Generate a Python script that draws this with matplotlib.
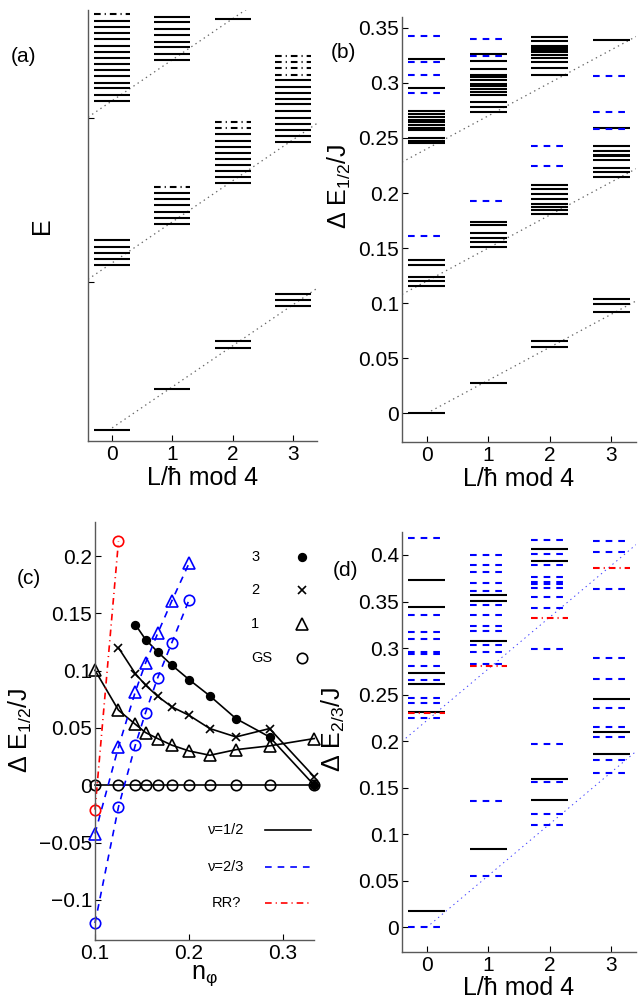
import numpy as np
import matplotlib
matplotlib.use("Agg")
import matplotlib.pyplot as plt

plt.rcParams['font.family'] = ['Liberation Sans', 'DejaVu Sans']
plt.rcParams['lines.scale_dashes'] = False
plt.rcParams['axes.linewidth'] = 1.0

L_vals = [0, 1, 2, 3]

# ---- (a) schematic spectrum, arbitrary energy units ----
a_solid = [
    [0.27, 4.28, 4.43, 4.58, 4.72, 4.89, 8.29, 8.44, 8.59, 8.73, 8.89, 9.03,
     9.18, 9.33, 9.49, 9.63, 9.80, 9.93, 10.09, 10.24],
    [1.27, 5.29, 5.43, 5.59, 5.74, 5.90, 6.04, 9.29, 9.44, 9.59, 9.73, 9.89,
     10.03, 10.20, 10.33],
    [2.26, 2.44, 6.28, 6.43, 6.58, 6.73, 6.88, 7.02, 7.17, 7.32, 7.47, 10.29],
    [3.29, 3.44, 3.59, 7.28, 7.43, 7.58, 7.73, 7.88, 8.03, 8.20, 8.34, 8.49,
     8.63, 8.79],
]
a_dashdot = [[10.40], [6.18], [7.63, 7.77], [8.93, 9.09, 9.24, 9.39]]
a_guides = [0.32, 4.34, 8.29]
a_slope = 1.0

# ---- (b) Delta E_{1/2}/J ----
b_black = [
    [0.0, 0.1157, 0.1200, 0.1236, 0.1351, 0.1396, 0.2453, 0.2475, 0.2499,
     0.2570, 0.2590, 0.2615, 0.2640, 0.2665, 0.2690, 0.2715, 0.2745, 0.2956,
     0.3216],
    [0.0278, 0.1511, 0.1551, 0.1596, 0.1638, 0.1707, 0.1741, 0.2735, 0.2780,
     0.2823, 0.2893, 0.2918, 0.2945, 0.2968, 0.2992, 0.3022, 0.3050, 0.3074,
     0.3125, 0.3197, 0.3261],
    [0.0605, 0.0653, 0.1807, 0.1844, 0.1870, 0.1904, 0.1943, 0.1989, 0.2034,
     0.2073, 0.3070, 0.3138, 0.3188, 0.3225, 0.3256, 0.3280, 0.3295, 0.3313,
     0.3334, 0.3379, 0.3412],
    [0.0922, 0.0989, 0.1037, 0.2143, 0.2191, 0.2224, 0.2296, 0.2335, 0.2349,
     0.2381, 0.2427, 0.2593, 0.3385],
]
b_blue = [
    [0.1614, 0.2911, 0.3070, 0.3188, 0.3421],
    [0.1928, 0.3246, 0.3400],
    [0.2249, 0.2427],
    [0.2584, 0.2735, 0.3061],
]
b_guides = [0.0, 0.12, 0.24]
b_slope = 0.03

# ---- (c) gaps vs n_phi ----
nphi = [1/10, 1/8, 1/7, 2/13, 1/6, 2/11, 1/5, 2/9, 1/4, 2/7, 1/3]
c_gs = [0.0] * 11
c_l1 = [0.1004, 0.0655, 0.0533, 0.0460, 0.0408, 0.0350, 0.0300, 0.0262,
        0.0311, 0.0344, 0.0408]
c_l2 = [0.1200, 0.0975, 0.0873, 0.0777, 0.0684, 0.0611, 0.0495, 0.0422,
        0.0495, 0.0073]
c_l3 = [0.1403, 0.1272, 0.1164, 0.1048, 0.0923, 0.0780, 0.0582, 0.0422, 0.0]
nphi_23 = [1/10, 1/8, 1/7, 2/13, 1/6, 2/11, 1/5]
c23_l1 = [-0.0422, 0.0335, 0.0815, 0.1068, 0.1325, 0.1610, 0.1936]
c23_gs = [-0.1202, -0.0189, 0.0349, 0.0635, 0.0937, 0.1246, 0.1616]
nphi_rr = [1/10, 1/8]
c_rr = [-0.0213, 0.2131]

# ---- (d) Delta E_{2/3}/J ----
d_black = [
    [0.0175, 0.2319, 0.2619, 0.2737, 0.3445, 0.3732],
    [0.0841, 0.3077, 0.3506, 0.3567],
    [0.1367, 0.1589, 0.3932, 0.4061],
    [0.1868, 0.2100, 0.2454],
]
d_blue = [
    [0.0, 0.2247, 0.2411, 0.2465, 0.2658, 0.2808, 0.2937, 0.2959, 0.3098,
     0.3173, 0.3360, 0.4182],
    [0.0555, 0.1360, 0.2834, 0.2962, 0.3030, 0.3188, 0.3238, 0.3352, 0.3463,
     0.3610, 0.3696, 0.3817, 0.3896, 0.4000],
    [0.1095, 0.1220, 0.1557, 0.1975, 0.2987, 0.3428, 0.3549, 0.3642, 0.3685,
     0.3710, 0.3767, 0.3889, 0.4007, 0.4165],
    [0.1660, 0.1796, 0.2050, 0.2154, 0.2357, 0.2669, 0.2894, 0.3635, 0.4036,
     0.4147],
]
d_red = [[0.2304], [0.2808], [0.3324], [0.3860]]
d_guides = [0.0, 0.222]
d_slope = 0.0556

DASH = (0, (4.8, 4.3))
DASHDOT = (0, (4.8, 2.9, 0.8, 2.9))
DOT = (0, (1, 2.6))
HW = 0.3
XL = (-0.4, 3.4)

fig = plt.figure(figsize=(6.41, 10.06), dpi=100)


def style(ax):
    for s in ['top', 'right']:
        ax.spines[s].set_visible(False)
    for s in ['left', 'bottom']:
        ax.spines[s].set_color('0.35')
    ax.tick_params(direction='in', length=4, width=0.8, labelsize=15, pad=3)
    ax.tick_params(axis='y', pad=2)


def levels(ax, data, **kw):
    for L, ys in zip(L_vals, data):
        ax.hlines(ys, L - HW, L + HW, **kw)


def guides(ax, icpts, slope, color, lw):
    for k, c in enumerate(icpts):
        x0 = 0.0 if k == 0 else XL[0]
        xs = np.array([x0, XL[1]])
        ax.plot(xs, c + slope * xs, color=color, lw=lw, linestyle=DOT)


# (a)
ax = fig.add_axes([0.1373, 0.5616, 0.3573, 0.4284])
guides(ax, a_guides, a_slope, '0.4', 0.9)
levels(ax, a_solid, colors='k', lw=1.5)
levels(ax, a_dashdot, colors='k', lw=1.5, linestyles=[DASHDOT])
ax.set_xlim(*XL)
ax.set_ylim(0, 10.5)
ax.set_xticks(L_vals)
ax.set_yticks([3.88, 7.88])
ax.set_yticklabels([])
style(ax)
ax.set_xlabel('L/ħ mod 4', fontsize=18, labelpad=1)
ax.set_ylabel('E', fontsize=18)
ax.yaxis.set_label_coords(-0.148, 0.5)

# (b)
ax = fig.add_axes([0.6271, 0.5606, 0.3651, 0.4228])
guides(ax, b_guides, b_slope, '0.4', 0.9)
levels(ax, b_black, colors='k', lw=1.5)
levels(ax, b_blue, colors='#0000ff', lw=1.5, linestyles=[DASH])
ax.set_xlim(*XL)
ax.set_ylim(-0.026, 0.36)
ax.set_xticks(L_vals)
ax.set_yticks([0, 0.05, 0.1, 0.15, 0.2, 0.25, 0.3, 0.35])
ax.set_yticklabels(['0', '0.05', '0.1', '0.15', '0.2', '0.25', '0.3', '0.35'])
style(ax)
ax.set_xlabel('L/ħ mod 4', fontsize=18, labelpad=1)
ax.set_ylabel(r'Δ E$_{\mathregular{1/2}}$/J', fontsize=18)
ax.yaxis.set_label_coords(-0.21, 0.6)

# (c)
ax = fig.add_axes([0.1482, 0.0656, 0.3421, 0.4158])
mk = dict(clip_on=False, mew=1.2)
ax.plot(nphi, c_gs, '-', color='k', lw=1.2, marker='o', ms=7.5, mfc='none', **mk)
ax.plot(nphi, c_l1, '-', color='k', lw=1.2, marker='^', ms=8.5, mfc='none', **mk)
ax.plot(nphi[1:], c_l2, '-', color='k', lw=1.2, marker='x', ms=6, **mk)
ax.plot(nphi[2:], c_l3, '-', color='k', lw=1.2, marker='o', ms=5.5, mfc='k', **mk)
ax.plot(nphi_23, c23_l1, color='#0000ff', lw=1.2, linestyle=DASH, marker='^',
        ms=8.5, mfc='none', **mk)
ax.plot(nphi_23, c23_gs, color='#0000ff', lw=1.2, linestyle=DASH, marker='o',
        ms=7.5, mfc='none', **mk)
ax.plot(nphi_rr, c_rr, color='#ff0000', lw=1.2, linestyle=DASHDOT, marker='o',
        ms=7.5, mfc='none', **mk)
ax.set_xlim(0.1, 1/3)
ax.set_ylim(-0.135, 0.23)
ax.set_xticks([0.1, 0.2, 0.3])
ax.set_yticks([-0.1, -0.05, 0, 0.05, 0.1, 0.15, 0.2])
ax.set_yticklabels(['\u22120.1', '\u22120.05', '0', '0.05', '0.1', '0.15', '0.2'])
style(ax)
ax.set_xlabel(r'n$_{\mathregular{φ}}$', fontsize=18, labelpad=0)
ax.set_ylabel(r'Δ E$_{\mathregular{1/2}}$/J', fontsize=18)
ax.yaxis.set_label_coords(-0.28, 0.5)

# legend for (c), placed by hand
tr = ax.transAxes
leg_marks = [('3', 'o', 'k', 5.5), ('2', 'x', 'none', 6), ('1', '^', 'none', 8.5),
             ('GS', 'o', 'none', 7.5)]
for (lab, m, fc, ms), yy in zip(leg_marks, [0.916, 0.837, 0.755, 0.673]):
    ax.text(0.73 if lab != 'GS' else 0.76, yy, lab, transform=tr, fontsize=10.5,
            ha='center', va='center')
    ax.plot([0.942], [yy], transform=tr, marker=m, ms=ms, mfc=fc, mec='k',
            color='k', mew=1.2, clip_on=False)
leg_lines = [('ν=1/2', 'k', '-'), ('ν=2/3', '#0000ff', DASH),
             ('RR?', '#ff0000', DASHDOT)]
for (lab, col, ls), yy in zip(leg_lines, [0.263, 0.175, 0.0876]):
    ax.text(0.60, yy, lab, transform=tr, fontsize=10.5, ha='center', va='center')
    ax.plot([0.775, 0.985], [yy, yy], transform=tr, color=col, lw=1.2,
            linestyle=ls, clip_on=False)

# (d)
ax = fig.add_axes([0.6271, 0.0540, 0.3651, 0.4175])
guides(ax, d_guides, d_slope, '#4040ff', 0.7)
levels(ax, d_blue, colors='#0000ff', lw=1.5, linestyles=[DASH])
levels(ax, d_black, colors='k', lw=1.5)
levels(ax, d_red, colors='#ff0000', lw=1.5, linestyles=[DASHDOT])
ax.set_xlim(*XL)
ax.set_ylim(-0.026, 0.425)
ax.set_xticks(L_vals)
ax.set_yticks([0, 0.05, 0.1, 0.15, 0.2, 0.25, 0.3, 0.35, 0.4])
ax.set_yticklabels(['0', '0.05', '0.1', '0.15', '0.2', '0.25', '0.3', '0.35', '0.4'])
style(ax)
ax.set_xlabel('L/ħ mod 4', fontsize=18, labelpad=1)
ax.set_ylabel(r'Δ E$_{\mathregular{2/3}}$/J', fontsize=18)
ax.yaxis.set_label_coords(-0.235, 0.53)

# panel tags
for tag, x, y in [('(a)', 23, 57), ('(b)', 343, 52), ('(c)', 29, 578), ('(d)', 345, 571)]:
    fig.text(x / 641, 1 - y / 1006, tag, fontsize=15, ha='center', va='center')

fig.savefig('out.png', dpi=100)
